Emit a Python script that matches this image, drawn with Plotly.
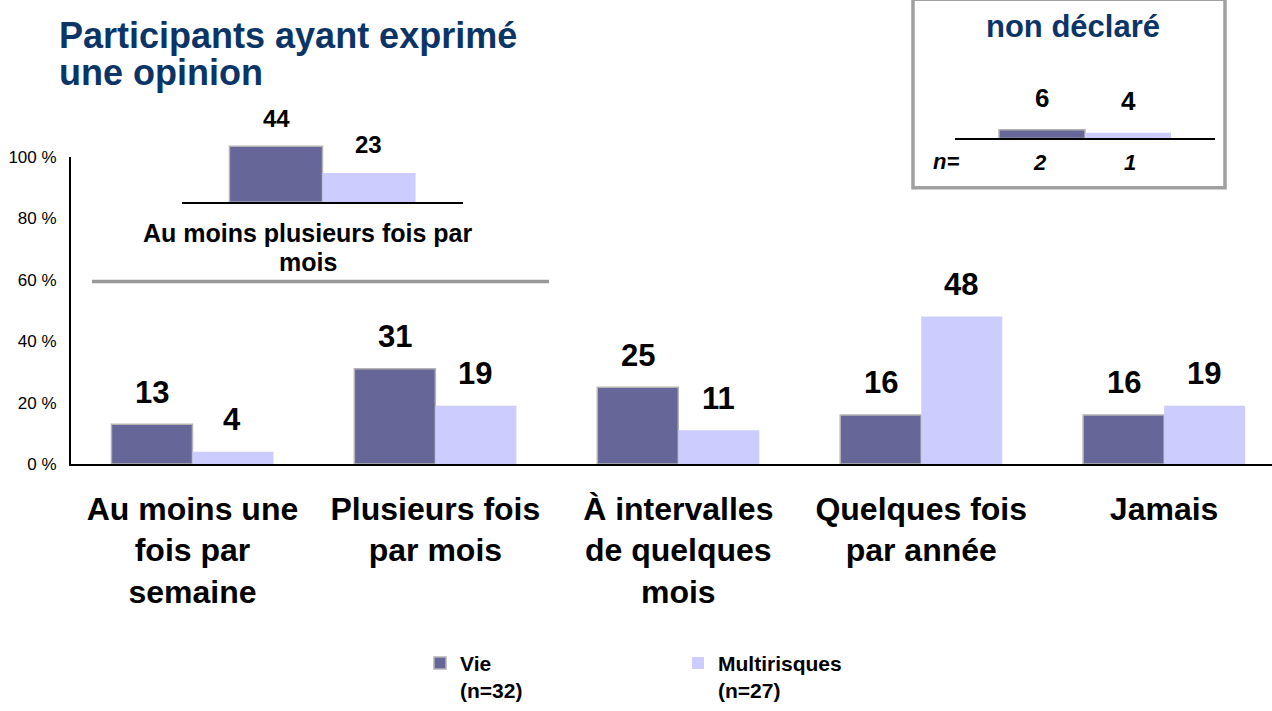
import plotly.graph_objects as go

# ---------------- data ----------------
categories = ["Au moins une<br>fois par<br>semaine", "Plusieurs fois<br>par mois",
              "À intervalles<br>de quelques<br>mois", "Quelques fois<br>par année", "Jamais"]
vie = [13, 31, 25, 16, 16]
multi = [4, 19, 11, 48, 19]

summary_cat = ["Au moins plusieurs fois par<br>mois"]
summary_vie = [44]
summary_multi = [23]

nd_cat = ["Non déclaré"]
nd_vie = [6]
nd_multi = [4]
nd_n = [2, 1]

series_names = ["Vie<br>(n=32)", "Multirisques<br>(n=27)"]
y_ticks = [0, 20, 40, 60, 80, 100]
title_lines = ["Participants ayant exprimé", "une opinion"]
box_title = "non déclaré"

# ---------------- style ----------------
W, H = 1272, 711
C_VIE = "#666699"
C_MULTI = "#CCCCFF"
OUTLINE = "#B4B4B4"
NAVY = "#0B3467"
FONT = "Liberation Sans, Arial, sans-serif"


def px(x):
    return x / W


def py(y):
    return 1 - y / H


def bold(s):
    return "<br>".join(f"<b>{p}</b>" for p in s.split("<br>"))


fig = go.Figure()

# main chart
fig.add_trace(go.Bar(x=categories, y=vie, name=bold(series_names[0]),
                     marker=dict(color=C_VIE, line=dict(color=OUTLINE, width=1.5)),
                     xaxis="x", yaxis="y", hoverinfo="skip"))
fig.add_trace(go.Bar(x=categories, y=multi, name=bold(series_names[1]),
                     marker=dict(color=C_MULTI, line=dict(width=0)),
                     xaxis="x", yaxis="y", hoverinfo="skip"))

# inset 1 (summary)
fig.add_trace(go.Bar(x=summary_cat, y=summary_vie, showlegend=False,
                     marker=dict(color=C_VIE, line=dict(color=OUTLINE, width=1.5)),
                     xaxis="x2", yaxis="y2", hoverinfo="skip"))
fig.add_trace(go.Bar(x=summary_cat, y=summary_multi, showlegend=False,
                     marker=dict(color=C_MULTI, line=dict(width=0)),
                     xaxis="x2", yaxis="y2", hoverinfo="skip"))

# inset 2 (non déclaré)
fig.add_trace(go.Bar(x=nd_cat, y=nd_vie, showlegend=False,
                     marker=dict(color=C_VIE, line=dict(color=OUTLINE, width=1.5)),
                     xaxis="x3", yaxis="y3", hoverinfo="skip"))
fig.add_trace(go.Bar(x=nd_cat, y=nd_multi, showlegend=False,
                     marker=dict(color=C_MULTI, line=dict(width=0)),
                     xaxis="x3", yaxis="y3", hoverinfo="skip"))

annotations = []


def lab(x, y, xr, yr, text, xs, ys, size, italic=False):
    t = f"<b><i>{text}</i></b>" if italic else f"<b>{text}</b>"
    return dict(x=x, y=y, xref=xr, yref=yr, text=t, showarrow=False, xshift=xs, yshift=ys,
                yanchor="middle", xanchor="center", font=dict(size=size, color="black", family=FONT))


# value labels main
for cat, v1, v2 in zip(categories, vie, multi):
    annotations.append(lab(cat, v1, "x", "y", v1, -40, 32, 31))
    annotations.append(lab(cat, v2, "x", "y", v2, 40, 32, 31))

# value labels inset 1 + its category text (two lines, tight spacing)
for cat, v1, v2 in zip(summary_cat, summary_vie, summary_multi):
    annotations.append(lab(cat, v1, "x2", "y2", v1, -46, 28, 24))
    annotations.append(lab(cat, v2, "x2", "y2", v2, 46, 28, 24))
    for i, line in enumerate(cat.split("<br>")):
        annotations.append(lab(cat, 0, "x2", "y2", line, -15, -31 - 29 * i, 25))

# value labels inset 2
for cat, v1, v2 in zip(nd_cat, nd_vie, nd_multi):
    annotations.append(lab(cat, v1, "x3", "y3", v1, -43, 32, 26))
    annotations.append(lab(cat, v2, "x3", "y3", v2, 43, 32, 26))
    annotations.append(lab(cat, 0, "x3", "y3", nd_n[0], -45, -24, 22, italic=True))
    annotations.append(lab(cat, 0, "x3", "y3", nd_n[1], 45, -24, 22, italic=True))

annotations.append(dict(x=px(946), y=py(158), xref="paper", yref="paper", text="<b><i>n=</i></b>", showarrow=False,
                        xanchor="center", yanchor="middle", font=dict(size=22, color="black", family=FONT)))

# title (two lines)
for i, line in enumerate(title_lines):
    annotations.append(dict(x=px(57), y=py(27 + 39 * i), xref="paper", yref="paper", align="left",
                            text=f"<b>{line}</b>", showarrow=False,
                            xanchor="left", yanchor="middle", font=dict(size=36, color=NAVY, family=FONT)))
# box title
annotations.append(dict(x=px(1073), y=py(18), xref="paper", yref="paper",
                        text=f"<b>{box_title}</b>", showarrow=False,
                        xanchor="center", yanchor="middle", font=dict(size=31, color=NAVY, family=FONT)))

shapes = [
    dict(type="rect", xref="paper", yref="paper", x0=px(913), x1=px(1225), y0=py(185), y1=py(-10),
         line=dict(color="#A0A0A0", width=3.5), fillcolor="rgba(0,0,0,0)", layer="below"),
    dict(type="line", xref="paper", yref="paper", x0=px(92), x1=px(549), y0=py(282), y1=py(282),
         line=dict(color="#999999", width=3.5)),
]

fig.update_layout(
    width=W, height=H,
    margin=dict(l=0, r=0, t=0, b=0),
    paper_bgcolor="white", plot_bgcolor="rgba(0,0,0,0)",
    barmode="group", bargap=0.333, bargroupgap=0,
    font=dict(family=FONT, color="black"),
    showlegend=True,
    legend=dict(orientation="h", x=px(420), y=py(656), xanchor="left", yanchor="top",
                entrywidth=213, entrywidthmode="pixels", valign="top",
                font=dict(size=21, color="black", family=FONT), bgcolor="rgba(0,0,0,0)",
                itemclick=False, itemdoubleclick=False),
    xaxis=dict(domain=[px(71), 1], range=[-0.5, 4.444], showline=True, linecolor="black", linewidth=2,
               ticks="", showgrid=False, zeroline=False, ticklabelstandoff=15,
               tickfont=dict(size=32, color="black", family=FONT), tickprefix="<b>", ticksuffix="</b>",
               anchor="y", fixedrange=True),
    yaxis=dict(domain=[py(471), py(153)], range=[0, 100], tickvals=y_ticks,
               ticktext=[f"{v} %" for v in y_ticks],
               showline=True, linecolor="black", linewidth=2, ticks="", showgrid=False, zeroline=False,
               ticklabelstandoff=9, tickfont=dict(size=17, color="black", family=FONT),
               anchor="x", fixedrange=True),
    xaxis2=dict(domain=[px(182), px(463)], range=[-0.5035, 0.5035], showline=True, linecolor="black", linewidth=2,
                ticks="", showgrid=False, zeroline=False, showticklabels=False,
                anchor="y2", fixedrange=True),
    yaxis2=dict(domain=[py(200), py(134)], range=[0, 50], visible=False, anchor="x2", fixedrange=True),
    xaxis3=dict(domain=[px(955), px(1215)], range=[-0.504, 0.504], showline=True, linecolor="black", linewidth=2,
                ticks="", showgrid=False, zeroline=False, showticklabels=False, anchor="y3", fixedrange=True),
    yaxis3=dict(domain=[py(134), py(89)], range=[0, 30], visible=False, anchor="x3", fixedrange=True),
    annotations=annotations,
    shapes=shapes,
)

fig.write_html("out.html", config={"displayModeBar": False},
               post_script="document.documentElement.style.margin='0';document.body.style.margin='0';"
                           "document.body.style.padding='0';document.body.style.overflow='hidden';")
